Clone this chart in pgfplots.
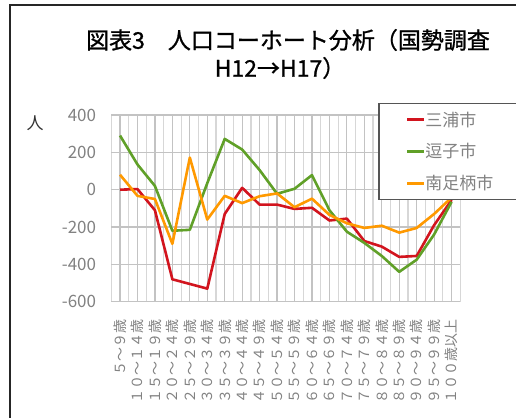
\documentclass[border=0pt]{standalone}
\usepackage{fontspec}
\setmainfont{Noto Sans CJK JP}
\newfontfamily\cjkfw[CharacterWidth=Full]{Noto Sans CJK JP}
\newfontfamily\titlefont[FakeBold=1]{Noto Sans CJK JP}
\usepackage{pgfplots}
\pgfplotsset{compat=1.18}
\definecolor{lred}{RGB}{210,20,30}
\definecolor{lgreen}{RGB}{96,160,40}
\definecolor{lorange}{RGB}{255,153,0}
\definecolor{tickgray}{RGB}{130,130,130}
\definecolor{gridgray}{RGB}{195,195,195}
\definecolor{gridlight}{RGB}{215,215,215}
\definecolor{legborder}{RGB}{85,85,85}
\begin{document}
\begin{tikzpicture}
\useasboundingbox (0,0) rectangle (516bp,418bp);
\fill[white] (0,0) rectangle (516bp,418bp);
\draw[line width=2bp, black!85] (10bp,-5bp) -- (10bp,413bp) -- (540bp,413bp);
\node[font=\titlefont\fontsize{23bp}{28bp}\selectfont] at (288bp,378bp) {図表3　人口コーホート分析（国勢調査};
\node[font=\titlefont\fontsize{23bp}{28bp}\selectfont] at (280bp,350bp) {H12→H17）};
\node[font=\fontsize{17bp}{20bp}\selectfont, text=black!80] at (35bp,295bp) {人};
\begin{axis}[
  at={(111.3bp,116.3bp)}, anchor=south west,
  scale only axis, width=349bp, height=186.7bp,
  xmin=-0.5, xmax=19.5, ymin=-600, ymax=400,
  xtick={0,...,19},
  xticklabels={5～9歳,10～14歳,15～19歳,20～24歳,25～29歳,30～34歳,35～39歳,40～44歳,45～49歳,50～54歳,55～59歳,60～64歳,65～69歳,70～74歳,75～79歳,80～84歳,85～89歳,90～94歳,95～99歳,100歳以上},
  minor xtick={-0.5,0.5,...,19.5},
  ytick={-600,-400,...,400},
  xmajorgrids, xminorgrids, ymajorgrids,
  major grid style={gridgray, line width=1.2bp},
  minor grid style={gridlight, line width=1.2bp},
  tick style={draw=none}, axis line style={draw=none},
  /pgf/number format/assume math mode=true,
  xticklabel style={font=\cjkfw\fontsize{14bp}{16bp}\selectfont, text=tickgray, yshift=-18bp, rotate=90, anchor=east, inner sep=0pt},
  yticklabel style={font=\fontsize{17bp}{19bp}\selectfont, text=tickgray, inner sep=0pt, xshift=-15bp},
  legend style={at={(0.7642,1.0643)}, anchor=north west, draw=legborder, line width=1.5bp, fill=white,
     inner xsep=27bp, inner ysep=8bp, row sep=16bp, font=\fontsize{17bp}{20bp}\selectfont, text=tickgray,
     cells={anchor=west}, nodes={inner sep=0pt, text=tickgray}},
  legend image code/.code={\draw[#1, line width=2.6bp] (0bp,0bp) -- (17bp,0bp);},
]
\addplot[lred, line width=2.6bp, line join=round] coordinates {
(0,0) (1,3) (2,-110) (3,-480) (4,-505) (5,-530) (6,-130) (7,10) (8,-80) (9,-80)
(10,-103) (11,-97) (12,-165) (13,-155) (14,-275) (15,-305) (16,-360) (17,-355) (18,-190) (19,-55)};
\addlegendentry{\makebox[81bp][l]{三浦市}}
\addplot[lgreen, line width=2.6bp, line join=round] coordinates {
(0,290) (1,135) (2,20) (3,-220) (4,-215) (5,35) (6,272) (7,215) (8,105) (9,-22)
(10,5) (11,78) (12,-110) (13,-225) (14,-285) (15,-355) (16,-440) (17,-375) (18,-240) (19,-65)};
\addlegendentry{\makebox[81bp][l]{逗子市}}
\addplot[lorange, line width=2.6bp, line join=round] coordinates {
(0,80) (1,-33) (2,-50) (3,-290) (4,172) (5,-160) (6,-33) (7,-72) (8,-35) (9,-20)
(10,-94) (11,-48) (12,-135) (13,-180) (14,-205) (15,-193) (16,-230) (17,-205) (18,-130) (19,-42)};
\addlegendentry{\makebox[81bp][l]{南足柄市}}
\end{axis}
\end{tikzpicture}
\end{document}
